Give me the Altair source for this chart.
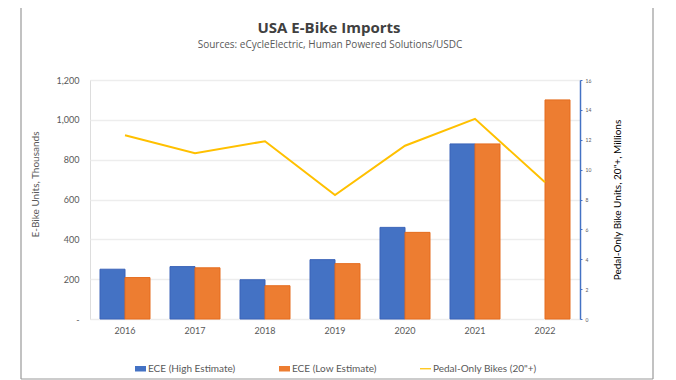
import altair as alt
import pandas as pd

years = ["2016", "2017", "2018", "2019", "2020", "2021", "2022"]
ece_high = [250, 263, 197, 298, 460, 879, None]
ece_low = [208, 257, 167, 278, 435, 879, 1100]
pedal_only = [12.3, 11.1, 11.9, 8.3, 11.6, 13.4, 9.15]

s_high = "ECE (High Estimate)"
s_low = "ECE (Low Estimate)"
s_pedal = 'Pedal-Only Bikes (20"+)'
series = [s_high, s_low, s_pedal]
colors = ["#4472C4", "#ED7D31", "#FFC000"]
strokes = ["#3A63B8", "#E56C1E", "#FFC000"]

title_text = "USA E-Bike Imports"
subtitle_text = "Sources: eCycleElectric, Human Powered Solutions/USDC"

rows = []
for y, h, l in zip(years, ece_high, ece_low):
    if h is not None:
        rows.append({"year": y, "series": s_high, "value": h})
    if l is not None:
        rows.append({"year": y, "series": s_low, "value": l})
bars_df = pd.DataFrame(rows)
line_df = pd.DataFrame({"year": years, "value": pedal_only})
frame_df = pd.DataFrame({"k": [0]})

FONT = "Lato"
TFONT = "Open Sans"
GRAY = "#595959"

xscale = alt.Scale(domain=years, paddingInner=20 / 70, paddingOuter=10 / 70)
xaxis = alt.Axis(title=None, labelFontSize=9, labelColor=GRAY, ticks=False,
                 domain=False, labelPadding=7, labelAngle=0, labelFont=FONT)

shape_expr = ("datum.index == 2 ? 'M-1,-0.11H1V0.11H-1Z' : 'M-1,-0.5H1V0.5H-1Z'")

bars = alt.Chart(bars_df).mark_bar(strokeWidth=1).encode(
    x=alt.X("year:N", scale=xscale, axis=xaxis),
    xOffset=alt.XOffset("series:N", scale=alt.Scale(domain=[s_high, s_low], paddingInner=0, paddingOuter=0)),
    y=alt.Y("value:Q", scale=alt.Scale(domain=[0, 1200]),
            axis=alt.Axis(title="E-Bike Units, Thousands", values=[0, 200, 400, 600, 800, 1000, 1200],
                          labelExpr="datum.value == 0 ? '-' : format(datum.value, ',')",
                          labelFontSize=9, labelColor=GRAY, labelFont=FONT, ticks=False, domain=False,
                          labelPadding=11, gridColor="#ededed", gridWidth=1.5,
                          titleFontSize=10, titleColor=GRAY, titleFont=FONT, titleFontWeight="normal",
                          titleAngle=270, titleX=-55, titleY=104, titleAlign="center",
                          titleBaseline="middle")),
    fill=alt.Fill("series:N", scale=alt.Scale(domain=series, range=colors),
                  legend=alt.Legend(title=None, orient="none", direction="horizontal",
                                    legendX=45, legendY=283, columnPadding=43,
                                    labelFontSize=10, labelColor=GRAY, labelFont=FONT,
                                    symbolSize=121, symbolStrokeWidth=0, labelOffset=2,
                                    padding=0, offset=0,
                                    symbolType=alt.ExprRef(expr=shape_expr))),
    stroke=alt.Stroke("series:N", scale=alt.Scale(domain=series, range=strokes), legend=None),
)

line = alt.Chart(line_df).mark_line(color="#FFC000", strokeWidth=2).encode(
    x=alt.X("year:N", scale=xscale, axis=xaxis),
    y=alt.Y("value:Q", scale=alt.Scale(domain=[0, 16]),
            axis=alt.Axis(orient="right", title='Pedal-Only Bike Units, 20"+, Millions',
                          values=list(range(0, 17, 2)), labelFontSize=5, labelColor=GRAY,
                          labelFont=FONT, grid=False, domainColor="#4472C4", domainWidth=1.5,
                          tickColor="#4472C4", tickSize=2, labelPadding=3,
                          titleFontSize=10, titleColor="#000000", titleFont=FONT,
                          titleFontWeight="normal", titleAngle=270, titleX=37, titleY=119.5,
                          titleAlign="center", titleBaseline="middle")),
)

frame_left = alt.Chart(frame_df).mark_rule(color="#999999", strokeWidth=1.2).encode(
    x=alt.value(-69), y=alt.value(-72), y2=alt.value(299))
frame_right = alt.Chart(frame_df).mark_rule(color="#999999", strokeWidth=1.2).encode(
    x=alt.value(563), y=alt.value(-72), y2=alt.value(299))
frame_bottom = alt.Chart(frame_df).mark_rule(color="#999999", strokeWidth=1.2).encode(
    x=alt.value(-69), x2=alt.value(563), y=alt.value(299))

title_mark = alt.Chart(frame_df).mark_text(
    text=title_text, font=TFONT, fontSize=15, fontWeight="bold", color="#404040",
    align="center", baseline="middle").encode(x=alt.value(239), y=alt.value(-52))
subtitle_mark = alt.Chart(frame_df).mark_text(
    text=subtitle_text, font=TFONT, fontSize=10, color=GRAY,
    align="center", baseline="middle").encode(x=alt.value(240), y=alt.value(-35))

chart = alt.layer(bars, line, frame_left, frame_right, frame_bottom,
                  title_mark, subtitle_mark).resolve_scale(
    y="independent"
).properties(
    width=490, height=239,
    autosize="none",
    padding={"left": 82, "top": 72, "right": 83, "bottom": 61},
).configure_view(stroke=None).configure(background="white")

chart.save("out.html", embed_options={"renderer": "svg", "actions": False})
